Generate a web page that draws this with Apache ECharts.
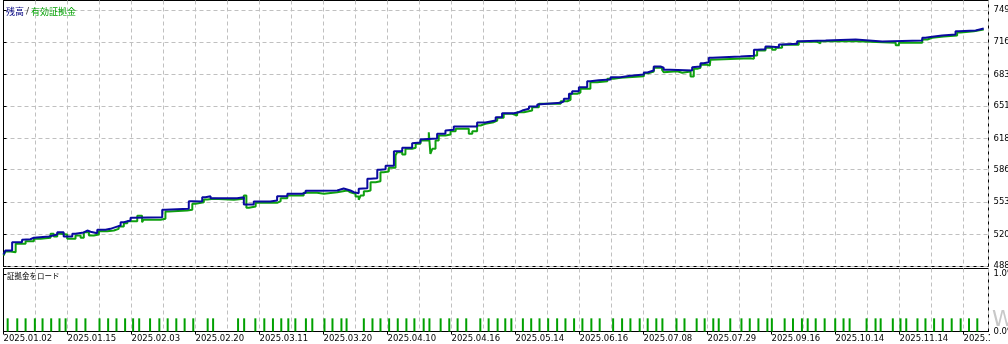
<!DOCTYPE html>
<html><head><meta charset="utf-8">
<script src="https://cdn.jsdelivr.net/npm/echarts@6/dist/echarts.min.js"></script>
<style>html,body{margin:0;padding:0;background:#fff}#c{width:1008px;height:344px}</style>
</head><body><div id="c"></div>
<script>
// x unit = one vertical grid cell of the tester graph (date labels every 2 cells)
const dateLabels = ['2025.01.02','2025.01.15','2025.02.03','2025.02.20','2025.03.11','2025.03.20','2025.04.10','2025.04.16','2025.05.14','2025.06.16','2025.07.08','2025.07.29','2025.09.16','2025.10.14','2025.11.14','2025.12'];
const balanceTicks = [488,520,553,586,618,651,683,716,749];
const loadTicks = [0,1];

const balance = [[0,499.5],[0.06,503.6],[0.27,512.1],[0.58,514.5],[0.63,515.1],[0.84,516.6],[0.95,517.9],[1.42,519.9],[1.68,522.3],[1.88,517.9],[2.15,520.6],[2.25,522.0],[2.51,524.0],[2.62,522.7],[2.72,521.2],[2.93,524.7],[3.19,525.7],[3.34,527.4],[3.5,529.1],[3.66,532.5],[3.76,534.2],[3.97,536.9],[4.07,537.6],[4.96,545.1],[5.06,546.1],[5.79,553.9],[5.9,553.6],[6.21,557.9],[6.31,559.0],[6.47,556.9],[7.3,557.9],[7.51,550.5],[7.82,553.6],[8.34,554.6],[8.55,559.0],[8.87,561.4],[9.33,562.4],[9.44,564.5],[9.96,564.8],[10.43,566.8],[10.63,564.8],[10.84,563.0],[10.95,562.0],[11.1,566.5],[11.16,567.1],[11.37,576.7],[11.47,577.3],[11.68,585.9],[11.78,586.5],[11.94,590.0],[12.2,604.8],[12.46,608.3],[12.77,613.0],[12.82,613.7],[13.03,617.1],[13.13,617.8],[13.55,622.6],[13.81,625.9],[13.87,626.7],[14.07,630.0],[14.8,634.1],[15.06,636.1],[15.38,639.5],[15.58,643.6],[15.95,644.6],[16.1,646.3],[16.21,648.1],[16.42,650.4],[16.68,652.5],[16.73,654.2],[17.41,655.8],[17.51,658.3],[17.67,663.4],[17.77,666.0],[17.98,670.1],[18.24,676.2],[18.34,677.2],[18.6,677.9],[18.97,680.3],[19.28,681.7],[19.59,683.0],[20.01,685.1],[20.12,687.1],[20.32,691.2],[20.53,689.9],[20.63,687.8],[20.84,687.1],[21.52,690.5],[21.57,691.2],[21.78,694.6],[21.88,695.6],[22.04,700.1],[22.15,701.4],[23.03,702.1],[23.45,708.2],[23.55,708.8],[23.81,711.6],[23.92,710.9],[24.23,713.6],[24.33,714.3],[24.8,717.0],[24.91,717.7],[25.69,718.7],[26.63,716.7],[27.46,717.7],[28.71,720.5],[28.81,721.5],[29.02,722.8],[29.33,723.8],[29.75,727.2],[29.85,727.9],[30.38,729.9],[30.63,729.9]];

const equity = [[0,498.5],[0.06,502.6],[0.22,501.9],[0.38,510.4],[0.69,513.1],[0.95,515.5],[1.16,516.6],[1.47,520.6],[1.57,517.9],[1.68,520.6],[1.78,519.9],[1.99,515.5],[2.25,518.9],[2.41,516.6],[2.51,522.3],[2.67,518.9],[2.82,519.9],[2.98,523.3],[3.24,524.0],[3.45,525.7],[3.6,528.1],[3.76,531.4],[3.87,533.5],[4.18,539.0],[4.33,532.5],[4.38,534.9],[4.91,535.9],[5.06,543.4],[5.17,544.4],[5.74,545.1],[5.9,551.2],[6.0,552.8],[6.26,555.6],[6.37,556.3],[6.57,555.3],[7.2,556.3],[7.51,559.7],[7.59,547.1],[7.67,548.5],[7.88,552.2],[8.55,553.9],[8.66,556.9],[8.87,559.7],[9.38,562.4],[9.8,561.4],[10.01,563.0],[10.43,564.8],[10.74,563.0],[10.84,561.4],[11.0,558.7],[11.1,555.3],[11.16,559.7],[11.26,564.1],[11.37,564.8],[11.47,573.2],[11.63,574.3],[11.78,583.4],[11.88,584.1],[12.04,587.9],[12.25,600.5],[12.3,603.8],[12.46,601.5],[12.56,607.3],[12.77,608.3],[12.88,612.4],[13.03,615.8],[13.29,624.2],[13.34,602.2],[13.4,607.3],[13.5,615.8],[13.6,620.8],[13.81,621.9],[13.97,625.2],[14.13,627.7],[14.54,622.6],[14.65,625.2],[14.8,631.0],[14.91,632.8],[15.06,634.4],[15.32,636.1],[15.43,638.9],[15.63,643.0],[15.9,641.2],[16.05,644.6],[16.26,646.3],[16.52,649.7],[16.73,653.2],[17.41,655.8],[17.62,657.2],[17.72,663.4],[17.93,664.7],[18.03,668.5],[18.34,675.2],[18.55,676.2],[18.87,678.7],[19.07,679.7],[19.28,681.3],[20.01,684.4],[20.17,686.1],[20.32,689.9],[20.58,687.8],[20.63,685.4],[20.69,686.4],[21.05,684.8],[21.21,686.1],[21.47,681.0],[21.57,688.8],[21.68,689.9],[21.78,692.9],[21.99,692.2],[22.07,691.2],[22.09,698.0],[22.15,699.7],[23.34,699.0],[23.45,702.4],[23.55,707.5],[23.81,710.3],[24.02,708.2],[24.13,710.3],[24.33,713.3],[24.85,716.4],[25.43,714.9],[25.53,717.0],[26.68,715.4],[27.88,712.9],[27.98,715.4],[28.71,718.7],[28.87,720.5],[29.02,721.8],[29.38,722.8],[29.8,725.9],[29.91,727.2],[30.32,726.2],[30.38,728.9],[30.63,728.9]];

const depositLoad = [[0.13,0.23],[0.43,0.23],[0.69,0.23],[0.98,0.23],[1.22,0.23],[1.49,0.23],[1.75,0.23],[1.94,0.23],[2.28,0.23],[2.56,0.23],[3.0,0.23],[3.27,0.23],[3.53,0.23],[3.8,0.23],[4.05,0.23],[4.24,0.23],[4.58,0.23],[4.87,0.23],[5.13,0.23],[5.4,0.23],[5.66,0.23],[5.93,0.23],[6.38,0.23],[6.55,0.23],[7.33,0.23],[7.52,0.23],[7.87,0.23],[8.15,0.23],[8.42,0.23],[8.68,0.23],[8.9,0.23],[9.12,0.23],[9.45,0.23],[9.65,0.23],[10.03,0.23],[10.28,0.23],[10.56,0.23],[10.72,0.23],[11.26,0.23],[11.53,0.23],[11.78,0.23],[12.05,0.23],[12.32,0.23],[12.59,0.23],[12.84,0.23],[13.13,0.23],[13.31,0.23],[13.66,0.23],[13.93,0.23],[14.19,0.23],[14.46,0.23],[14.9,0.23],[15.16,0.23],[15.44,0.23],[15.68,0.23],[15.87,0.23],[16.23,0.23],[16.49,0.23],[16.75,0.23],[17.02,0.23],[17.3,0.23],[17.56,0.23],[17.83,0.23],[18.09,0.23],[18.37,0.23],[18.63,0.23],[19.05,0.23],[19.33,0.23],[19.59,0.23],[19.88,0.23],[20.13,0.23],[20.4,0.23],[20.59,0.23],[21.03,0.23],[21.28,0.23],[21.66,0.23],[21.91,0.23],[22.18,0.23],[22.35,0.23],[22.71,0.23],[23.06,0.23],[23.32,0.23],[23.59,0.23],[23.87,0.23],[24.01,0.23],[24.41,0.23],[24.67,0.23],[24.95,0.23],[25.13,0.23],[25.38,0.23],[25.66,0.23],[25.99,0.23],[26.25,0.23],[26.44,0.23],[26.97,0.23],[27.25,0.23],[27.41,0.23],[27.79,0.23],[28.03,0.23],[28.21,0.23],[28.56,0.23],[28.81,0.23],[29.08,0.23],[29.35,0.23],[29.63,0.23],[29.91,0.23],[30.17,0.23],[30.43,0.23]];

const chart = echarts.init(document.getElementById('c'), null, {renderer: 'canvas'});
const FONT = 'DejaVu Sans';
const CJK = 'Noto Sans CJK JP';
const gridStyle = {type: [4, 3], color: '#C0C0C0', width: 1};
const xMax = 30.78;
const noAxis = {axisLine: {show: false}, axisTick: {show: false}, axisLabel: {show: false}};

chart.setOption({
  animation: false,
  backgroundColor: '#ffffff',
  title: [
    {left: 6, top: 7, padding: 0, text: '{a|残高} {s|/} {b|有効証拠金}',
     textStyle: {fontFamily: CJK, fontSize: 9, fontWeight: 'normal',
       rich: {a: {color: '#000080', fontFamily: CJK, fontSize: 9},
              s: {color: '#333333', fontFamily: FONT, fontSize: 9},
              b: {color: '#00A000', fontFamily: CJK, fontSize: 9}}}},
    {left: 7, top: 272, padding: 0, text: '証拠金をロード',
     textStyle: {fontFamily: CJK, fontSize: 7.5, fontWeight: 'normal', color: '#000'}}
  ],
  grid: [
    {left: 3.5, right: 19.5, top: 0.5, height: 266, show: true, borderColor: '#000', borderWidth: 1,
     containLabel: false, outerBoundsMode: 'none'},
    {left: 3.5, right: 19.5, top: 268.5, height: 63, show: true, borderColor: '#000', borderWidth: 1,
     containLabel: false, outerBoundsMode: 'none'}
  ],
  xAxis: [
    Object.assign({gridIndex: 0, type: 'value', min: 0, max: xMax, interval: 1,
      splitLine: {show: true, showMinLine: false, lineStyle: gridStyle}}, noAxis),
    Object.assign({gridIndex: 1, type: 'value', position: 'bottom', min: 0, max: xMax, interval: 1,
      splitLine: {show: true, showMinLine: false, lineStyle: gridStyle}}, noAxis),
    {gridIndex: 1, type: 'value', position: 'bottom', min: 0, max: xMax, interval: 2,
     axisLine: {show: true, lineStyle: {color: '#000'}},
     axisTick: {show: true, length: 3, lineStyle: {color: '#000'}},
     axisLabel: {show: true, formatter: v => dateLabels[Math.round(v / 2)] || '',
       align: 'left', margin: 3, fontFamily: FONT, fontSize: 8.5, color: '#000',
       showMinLabel: true, showMaxLabel: false},
     splitLine: {show: false}}
  ],
  yAxis: [
    {gridIndex: 0, type: 'value', position: 'right', min: 487.3, max: 758.5,
     axisLine: {show: true, lineStyle: {color: '#000'}},
     axisTick: {show: true, length: 3, customValues: balanceTicks, lineStyle: {color: '#000'}},
     axisLabel: {show: true, customValues: balanceTicks, margin: 5,
       fontFamily: FONT, fontSize: 8.5, color: '#000', formatter: v => String(v)},
     splitLine: {show: true, lineStyle: gridStyle}},
    {gridIndex: 1, type: 'value', position: 'right', min: 0, max: 1.1,
     axisLine: {show: true, lineStyle: {color: '#000'}},
     axisTick: {show: true, length: 3, customValues: loadTicks, lineStyle: {color: '#000'}},
     axisLabel: {show: true, customValues: loadTicks, margin: 5,
       fontFamily: FONT, fontSize: 8.5, color: '#000', formatter: v => v.toFixed(1) + '%'},
     splitLine: {show: false}}
  ],
  graphic: [
    {type: 'text', left: 992, top: 309, z: 0, silent: true,
     style: {text: 'W', fill: '#C8C8C8', font: '22px DejaVu Sans'}},
    {type: 'rect', z: 100, silent: true, shape: {x: 990, y: 334, width: 18, height: 10},
     style: {fill: '#ffffff'}}
  ],
  series: [
    {name: '有効証拠金', type: 'line', xAxisIndex: 0, yAxisIndex: 0, data: equity,
     step: 'end', showSymbol: false, symbol: 'none', z: 2,
     lineStyle: {color: '#0FA00F', width: 2}},
    {name: '残高', type: 'line', xAxisIndex: 0, yAxisIndex: 0, data: balance,
     step: 'end', showSymbol: false, symbol: 'none', z: 3,
     lineStyle: {color: '#0A0AA0', width: 2}},
    {name: '証拠金をロード', type: 'bar', xAxisIndex: 2, yAxisIndex: 1, data: depositLoad,
     barWidth: 2, itemStyle: {color: '#00A000'}}
  ]
});
</script>
</body></html>
